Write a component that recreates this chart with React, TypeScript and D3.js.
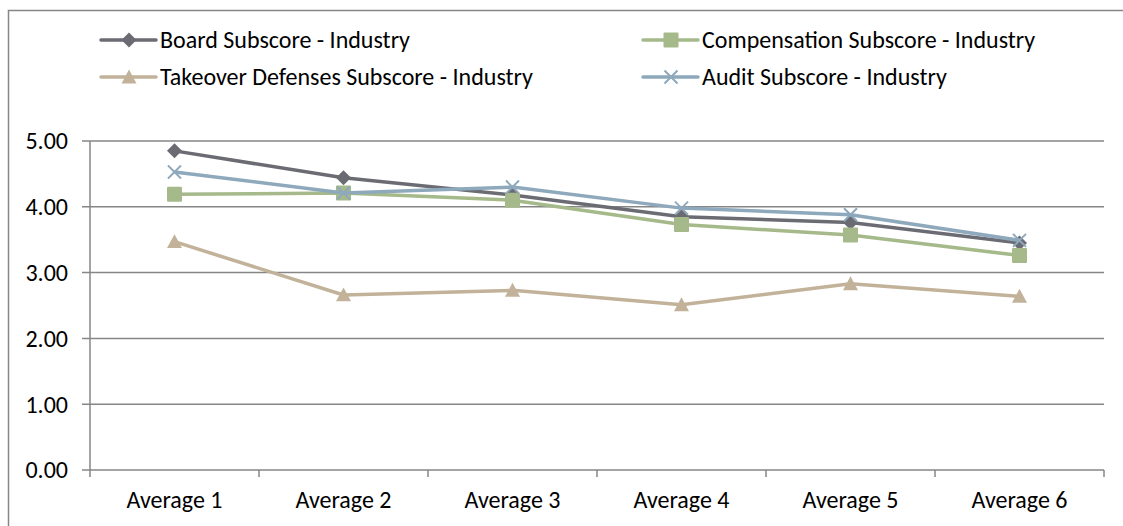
import React from "react";
import * as d3 from "d3";

const categories = ["Average 1", "Average 2", "Average 3", "Average 4", "Average 5", "Average 6"];
const boardValues = [4.85, 4.44, 4.18, 3.85, 3.76, 3.45];
const compensationValues = [4.19, 4.21, 4.1, 3.73, 3.57, 3.26];
const takeoverValues = [3.47, 2.66, 2.73, 2.51, 2.83, 2.64];
const auditValues = [4.53, 4.21, 4.3, 3.98, 3.88, 3.49];
const yTicks = [0, 1, 2, 3, 4, 5];

type MarkerKind = "diamond" | "square" | "triangle" | "cross";

const seriesList: { name: string; values: number[]; color: string; marker: MarkerKind }[] = [
  { name: "Board Subscore - Industry", values: boardValues, color: "#6b6b73", marker: "diamond" },
  { name: "Compensation Subscore - Industry", values: compensationValues, color: "#a5b98a", marker: "square" },
  { name: "Takeover Defenses Subscore - Industry", values: takeoverValues, color: "#c2b29a", marker: "triangle" },
  { name: "Audit Subscore - Industry", values: auditValues, color: "#8ea8bc", marker: "cross" },
];

const W = 1123;
const H = 526;
const plot = { left: 90, right: 1104, top: 141, bottom: 470 };
const FONT = "Carlito, Lato, Calibri, sans-serif";

function Marker({ kind, x, y, color }: { kind: MarkerKind; x: number; y: number; color: string }) {
  if (kind === "diamond") {
    const r = 7.5;
    return <path d={`M${x},${y - r}L${x + r},${y}L${x},${y + r}L${x - r},${y}Z`} fill={color} />;
  }
  if (kind === "square") {
    const s = 7.5;
    return <rect x={x - s} y={y - s} width={2 * s} height={2 * s} rx={1} fill={color} />;
  }
  if (kind === "triangle") {
    const s = 7.5;
    return <path d={`M${x},${y - s}L${x + s},${y + s * 0.85}L${x - s},${y + s * 0.85}Z`} fill={color} />;
  }
  const c = 6.5;
  return (
    <path
      d={`M${x - c},${y - c}L${x + c},${y + c}M${x - c},${y + c}L${x + c},${y - c}`}
      stroke={color}
      strokeWidth={2}
      fill="none"
    />
  );
}

export default function App() {
  const x = d3.scaleBand<string>().domain(categories).range([plot.left, plot.right]);
  const y = d3.scaleLinear().domain([0, 5]).range([plot.bottom, plot.top]);
  const cx = (c: string) => (x(c) as number) + x.bandwidth() / 2;
  const line = d3
    .line<number>()
    .x((_, i) => cx(categories[i]))
    .y((v) => y(v));

  const boundaries = categories.map((c) => x(c) as number).concat([plot.right]);
  const gridColor = "#868686";

  const legendItems = [
    { s: seriesList[0], lx: 101, ly: 40 },
    { s: seriesList[1], lx: 643, ly: 40 },
    { s: seriesList[2], lx: 101, ly: 77 },
    { s: seriesList[3], lx: 643, ly: 77 },
  ];

  return (
    <svg
      width={W}
      height={H}
      style={{ position: "fixed", left: 0, top: 0, background: "#fff" }}
      fontFamily={FONT}
    >
      <rect x={8.5} y={10.5} width={W + 20} height={H + 20} fill="#fff" stroke="#868686" strokeWidth={1.5} />

      {/* gridlines and value labels */}
      {yTicks.map((t) => (
        <g key={t}>
          <line x1={plot.left - 8} x2={plot.right} y1={y(t)} y2={y(t)} stroke={gridColor} strokeWidth={1.5} />
          <text x={68} y={y(t)} dy="0.35em" textAnchor="end" fontSize={24} fill="#000">
            {d3.format(".2f")(t)}
          </text>
        </g>
      ))}

      {/* axes */}
      <line x1={plot.left} x2={plot.left} y1={plot.top} y2={plot.bottom} stroke={gridColor} strokeWidth={1.5} />
      {boundaries.map((b, i) => (
        <line key={i} x1={b} x2={b} y1={plot.bottom} y2={plot.bottom + 7} stroke={gridColor} strokeWidth={1.5} />
      ))}
      {categories.map((c) => (
        <text key={c} x={cx(c)} y={500} dy="0.35em" textAnchor="middle" fontSize={24} fill="#000">
          {c}
        </text>
      ))}

      {/* series */}
      {seriesList.map((s) => (
        <g key={s.name}>
          <path d={line(s.values) || ""} fill="none" stroke={s.color} strokeWidth={3.5} strokeLinejoin="round" />
          {s.values.map((v, i) => (
            <Marker key={i} kind={s.marker} x={cx(categories[i])} y={y(v)} color={s.color} />
          ))}
        </g>
      ))}

      {/* legend */}
      {legendItems.map(({ s, lx, ly }) => (
        <g key={s.name}>
          <line x1={lx} x2={lx + 55} y1={ly} y2={ly} stroke={s.color} strokeWidth={3.5} strokeLinecap="round" />
          <Marker kind={s.marker} x={lx + 28} y={ly} color={s.color} />
          <text x={lx + 59} y={ly} dy="0.35em" fontSize={24} fill="#000">
            {s.name}
          </text>
        </g>
      ))}
    </svg>
  );
}
